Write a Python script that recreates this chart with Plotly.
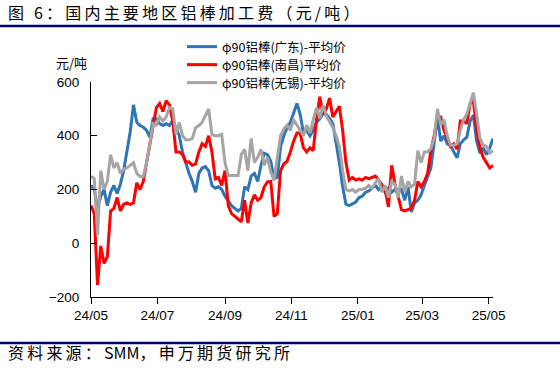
import pandas as pd
import plotly.graph_objects as go

dates = pd.date_range("2024-05-01", periods=124, freq="3D")

guangdong = [
    215, 200, 130, 175, 200, 140, 190, 215, 185, 220,
    270, 345, 415, 515, 450, 438, 432, 420, 395, 463,
    463, 445, 438, 445, 438, 457, 430, 400, 340, 300,
    260, 230, 190, 260, 280, 285, 270, 215, 205, 210,
    200, 175, 155, 140, 130, 120, 130, 210, 200, 250,
    260, 230, 290, 335, 330, 305, 240, 245, 360, 400,
    430, 450, 485, 520, 480, 410, 420, 400, 420, 450,
    463, 482, 480, 465, 445, 380, 300, 210, 145, 140,
    145, 153, 170, 175, 190, 195, 205, 215, 200, 215,
    190, 205, 190, 200, 190, 200, 160, 210, 116, 150,
    160, 180, 215, 250, 280, 375, 470, 380, 400, 370,
    364, 340, 318, 370, 385, 395, 455, 476, 380, 335,
    355, 330, 355, 390,
]

nanchang = [
    140, 110, -155, -10, -75, -50, 120, 130, 170, 120,
    145, 150, 145, 150, 225, 200, 230, 300, 375, 450,
    505, 520, 490, 530, 515, 455, 340, 340, 330, 302,
    302, 290, 295, 340, 370, 360, 400, 340, 240, 245,
    215, 270, 140, 110, 100, 90, 80, 160, 75, 150,
    180, 160, 170, 210, 228, 230, 100, 110, 270, 295,
    305, 340, 380, 410, 410, 355, 340, 355, 345, 460,
    545, 480, 500, 540, 470, 490, 510, 420, 300, 235,
    245, 235, 240, 235, 245, 240, 245, 250, 235, 215,
    200, 135, 290, 220, 170, 125, 120, 125, 130, 160,
    230, 210, 230, 260, 345, 400, 470, 470, 420, 390,
    360, 370, 350, 455, 455, 445, 520, 530, 420, 355,
    320, 300, 280, 290,
]

wuxi = [
    250, 240, 30, 270, 200, 230, 330, 280, 300, 260,
    275, 280, 290, 300, 260, 248, 248, 300, 370, 445,
    440, 470, 455, 470, 505, 500, 405, 450, 400, 385,
    385, 390, 430, 438, 450, 475, 500, 405, 400, 400,
    405, 300, 252, 252, 252, 252, 330, 350, 270, 390,
    300, 320, 350, 290, 320, 265, 235, 320, 400, 425,
    440, 420, 460, 440, 420, 400, 440, 410, 460, 505,
    465, 513, 475, 455, 430, 400, 360, 270, 200, 195,
    200, 190, 200, 200, 205, 215, 205, 225, 240, 190,
    215, 170, 230, 220, 170, 250, 190, 230, 210, 220,
    345, 300, 340, 340, 352, 390, 500, 440, 460, 400,
    365, 365, 370, 420, 460, 480, 520, 560, 480, 390,
    365, 360, 335, 345,
]

series_names = [
    "φ90铝棒(广东)-平均价",
    "φ90铝棒(南昌)平均价",
    "φ90铝棒(无锡)-平均价",
]
series_colors = ["#2E75B6", "#FF0000", "#A5A5A5"]

tick_dates = ["2024-05-01", "2024-07-01", "2024-09-01", "2024-11-01",
              "2025-01-01", "2025-03-01", "2025-05-01"]
tick_labels = ["24/05", "24/07", "24/09", "24/11", "25/01", "25/03", "25/05"]
y_ticks = [-200, 0, 200, 400, 600]

title_text = "图 6：国内主要地区铝棒加工费（元/吨）"
source_parts = ["资料来源：", "SMM", "，申万期货研究所"]
unit_text = "元/吨"

# ---- figure ----
L, R, T, B = 91, 67, 82, 74
W, H = 560, 371
pw, ph = W - L - R, H - T - B


def px_x(p):
    return (p - L) / pw


def px_y(p):
    return (H - B - p) / ph


def spaced(s):
    return "\u2009".join(list(s))


cjk = "Noto Sans CJK SC"
legend_ids = ["legend", "legend2", "legend3"]
legend_rows = [47, 65, 83]

fig = go.Figure()
for name, vals, col, lg in zip(series_names, [guangdong, nanchang, wuxi],
                               series_colors, legend_ids):
    fig.add_trace(go.Scatter(x=dates, y=vals, mode="lines", name=name,
                             legend=lg, line=dict(color=col, width=3)))

legend_layout = {}
for lg, row in zip(legend_ids, legend_rows):
    legend_layout[lg] = dict(x=px_x(182), y=px_y(row), xanchor="left", yanchor="middle",
                             bgcolor="rgba(0,0,0,0)",
                             font=dict(family=cjk, size=12.5, color="black"),
                             itemwidth=30)

fig.update_layout(
    width=W, height=H,
    margin=dict(l=L, r=R, t=T, b=B, pad=0, autoexpand=False),
    paper_bgcolor="white", plot_bgcolor="white",
    showlegend=True,
    xaxis=dict(type="date", range=["2024-05-01", "2025-05-05"],
               tickvals=tick_dates, ticktext=tick_labels,
               showgrid=False, zeroline=False, showline=True,
               linecolor="black", linewidth=1, ticks="outside",
               ticklen=6, tickcolor="black", automargin=False,
               tickfont=dict(family="Liberation Sans", size=13.5, color="black")),
    yaxis=dict(range=[-200, 600], tickvals=y_ticks,
               showgrid=False, zeroline=False, showline=True,
               linecolor="black", linewidth=1, ticks="inside",
               ticklen=6, tickcolor="black", automargin=False,
               ticklabelstandoff=8,
               tickfont=dict(family="Liberation Sans", size=13.5, color="black")),
    **legend_layout,
)

fig.add_annotation(xref="paper", yref="paper", x=px_x(6), y=px_y(12),
                   xanchor="left", yanchor="middle", showarrow=False,
                   text=spaced(title_text),
                   font=dict(family=cjk, size=16, color="black"))
fig.add_annotation(xref="paper", yref="paper", x=px_x(6), y=px_y(352),
                   xanchor="left", yanchor="middle", showarrow=False,
                   text=spaced(source_parts[0]) + "\u2009" + source_parts[1] + spaced(source_parts[2]),
                   font=dict(family=cjk, size=16, color="black"))
fig.add_annotation(xref="paper", yref="paper", x=px_x(89), y=px_y(63),
                   xanchor="right", yanchor="middle", showarrow=False,
                   text=unit_text,
                   font=dict(family=cjk, size=13, color="black"))

for py in (26, 343):
    fig.add_shape(type="line", xref="paper", yref="paper",
                  x0=px_x(0), x1=px_x(W), y0=px_y(py), y1=px_y(py),
                  line=dict(color="#000080", width=2.5))

fig.write_html("out.html", config={"displayModeBar": False},
               post_script="document.body.style.margin='0px';")
